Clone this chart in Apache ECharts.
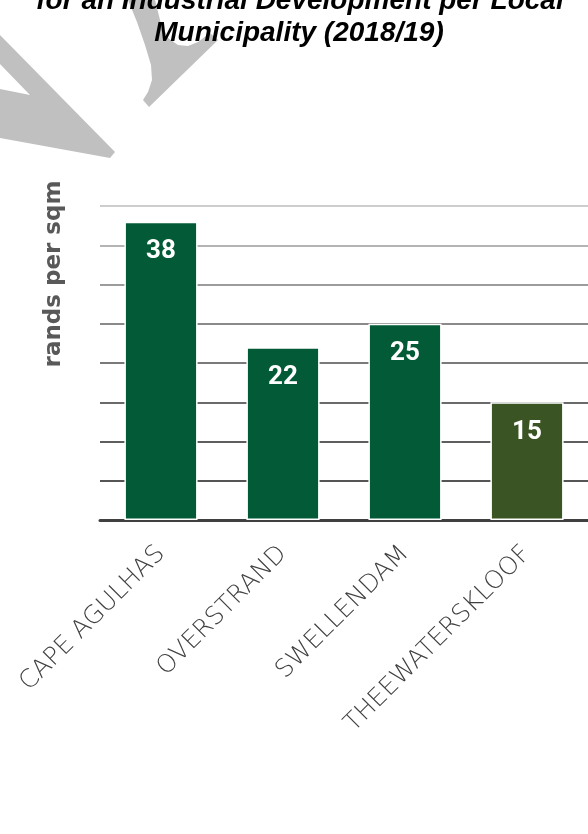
<!DOCTYPE html>
<html>
<head>
<meta charset="utf-8">
<script src="https://cdn.jsdelivr.net/npm/echarts@6/dist/echarts.min.js"></script>
<style>
  html, body { margin: 0; padding: 0; background: #fff; }
  #chart { width: 588px; height: 834px; }
</style>
</head>
<body>
<div id="chart"></div>
<script>
// ---- data ----
const categories = ['CAPE AGULHAS', 'OVERSTRAND', 'SWELLENDAM', 'THEEWATERSKLOOF'];
const values = [38, 22, 25, 15];
const barColors = ['#025B36', '#025B36', '#025B36', '#3A5424'];
const titleLines = ['for an Industrial Development per Local', 'Municipality (2018/19)'];
const yAxisTitle = 'rands per sqm';
const yMin = 0, yMax = 40, yStep = 5;

// gridline colours from value 0 upward (dark -> light)
const gridColors = ['#404040', '#555555', '#5e5e5e', '#6a6a6a', '#7a7a7a', '#8a8a8a', '#9c9c9c', '#b4b4b4', '#cdcdcd'];

const chart = echarts.init(document.getElementById('chart'), null, { renderer: 'canvas' });

const option = {
  backgroundColor: '#ffffff',
  animation: false,
  grid: { left: 100, right: 0, top: 206, bottom: 314, containLabel: false },
  xAxis: {
    type: 'category',
    data: categories,
    axisLine: { show: true, lineStyle: { color: '#404040', width: 3 } },
    axisTick: { show: false },
    axisLabel: {
      rotate: 45,
      margin: 30,
      interval: 0,
      color: '#404040',
      fontFamily: 'DejaVu Sans',
      fontWeight: 200,
      fontSize: 25
    },
    splitLine: { show: false }
  },
  yAxis: {
    type: 'value',
    min: yMin,
    max: yMax,
    interval: yStep,
    axisLine: { show: false },
    axisTick: { show: false },
    axisLabel: { show: false },
    splitLine: { show: true, lineStyle: { color: gridColors, width: 2 } }
  },
  series: [{
    type: 'bar',
    data: values.map((v, i) => ({ value: v, itemStyle: { color: barColors[i] } })),
    barWidth: '60%',
    itemStyle: { borderColor: '#ffffff', borderWidth: 1.5 },
    label: {
      show: true,
      position: 'insideTop',
      distance: 17,
      color: '#ffffff',
      fontFamily: 'Roboto',
      fontWeight: 'bold',
      fontSize: 26
    },
    z: 3
  }],
  graphic: [
    // watermark shapes
    {
      type: 'polygon', z: 0, silent: true,
      shape: { points: [[0, 35], [115, 152], [110, 158], [0, 138], [0, 89], [30, 95], [0, 64]] },
      style: { fill: '#c0c0c0' }
    },
    {
      type: 'polygon', z: 0, silent: true,
      shape: { points: [
        [128, 0], [137, 22], [145, 45], [151, 65], [152, 80], [148, 92], [143, 100], [149, 107],
        [218, 40], [210, 33], [198, 42], [188, 46], [178, 45], [168, 38], [161, 24], [157, 8], [155, 0]
      ] },
      style: { fill: '#c0c0c0' }
    },
    // title lines
    {
      type: 'text', z: 10, x: 300, y: -13,
      style: { text: titleLines[0], font: 'italic bold 28px "Liberation Sans", Arial, sans-serif',
               fill: '#000', align: 'center', verticalAlign: 'top' }
    },
    {
      type: 'text', z: 10, x: 299, y: 19,
      style: { text: titleLines[1], font: 'italic bold 28px "Liberation Sans", Arial, sans-serif',
               fill: '#000', align: 'center', verticalAlign: 'top' }
    },
    // y axis title
    {
      type: 'text', z: 10, x: 54, y: 274, rotation: Math.PI / 2,
      style: { text: yAxisTitle, font: 'bold 23px "DejaVu Sans", sans-serif',
               fill: '#595959', align: 'center', verticalAlign: 'middle' }
    }
  ]
};

chart.setOption(option);
</script>
</body>
</html>
